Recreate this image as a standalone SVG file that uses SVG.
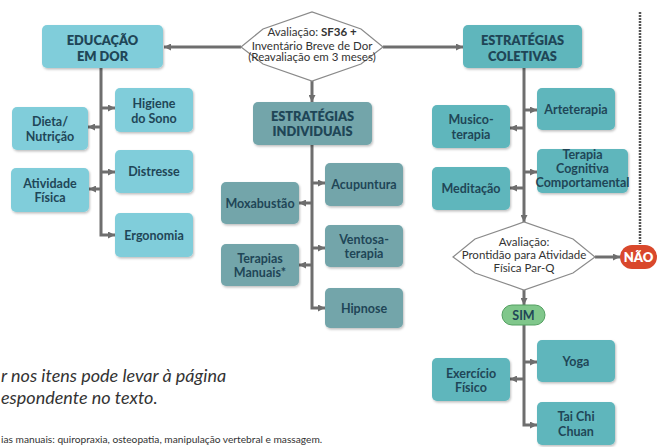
<svg xmlns="http://www.w3.org/2000/svg" width="660" height="447" viewBox="0 0 660 447">
<style>
.edu{fill:#80cdda}
.col{fill:#5fb6bc}
.ind{fill:#73a5aa}
.box{filter:url(#sh)}
.t{font-family:Lato,"Open Sans",sans-serif;font-weight:700;font-size:12.5px;fill:#1f4657;text-anchor:middle}
.h{font-family:Lato,"Open Sans",sans-serif;font-weight:800;font-size:12.8px;fill:#1f4657;text-anchor:middle}
.hx{font-family:Lato,"Open Sans",sans-serif;font-size:11.5px;fill:#333;text-anchor:middle}
.c{fill:none;stroke:#6e6e6e;stroke-width:3}
.a{marker-end:url(#ar)}
.foot{font-family:Lato,"Open Sans",sans-serif;font-style:italic;fill:#333}
</style>
<defs>
<filter id="sh" x="-10%" y="-10%" width="125%" height="130%">
<feDropShadow dx="1" dy="1.5" stdDeviation="1" flood-color="#000" flood-opacity="0.25"/>
</filter>
<marker id="ar" viewBox="0 0 10 10" refX="10" refY="5" markerUnits="userSpaceOnUse" markerWidth="7" markerHeight="7" orient="auto">
<path d="M0,0 L10,5 L0,10 z" fill="#6e6e6e"/>
</marker>
</defs>
<rect width="660" height="447" fill="#fff"/>

<g id="connectors">
<line class="c a" x1="241" y1="47" x2="164" y2="47"/>
<line class="c a" x1="383" y1="47" x2="463" y2="47"/>
<line class="c a" x1="312" y1="81" x2="312" y2="102"/>
<polyline class="c a" points="101,68 101,235 115,235"/>
<line class="c a" x1="101" y1="108" x2="115" y2="108"/>
<line class="c a" x1="101" y1="127" x2="88" y2="127"/>
<line class="c a" x1="101" y1="172" x2="115" y2="172"/>
<line class="c a" x1="101" y1="189" x2="89" y2="189"/>
<polyline class="c a" points="312,145 312,308 325,308"/>
<line class="c a" x1="312" y1="183" x2="325" y2="183"/>
<line class="c a" x1="312" y1="203" x2="299" y2="203"/>
<line class="c a" x1="312" y1="248" x2="325" y2="248"/>
<line class="c a" x1="312" y1="265" x2="299" y2="265"/>
<line class="c a" x1="524" y1="68" x2="524" y2="222"/>
<line class="c a" x1="524" y1="110" x2="537" y2="110"/>
<line class="c a" x1="524" y1="128" x2="510" y2="128"/>
<line class="c a" x1="524" y1="172" x2="537" y2="172"/>
<line class="c a" x1="524" y1="188" x2="510" y2="188"/>
<line class="c a" x1="595" y1="257" x2="620" y2="257"/>
<line class="c a" x1="524" y1="290" x2="524" y2="305"/>
<polyline class="c a" points="524,325 524,425 537,425"/>
<line class="c a" x1="524" y1="362" x2="537" y2="362"/>
<line class="c a" x1="524" y1="379" x2="510" y2="379"/>
<line x1="640" y1="12" x2="640" y2="244" stroke="#555" stroke-width="2.5" stroke-dasharray="2 1"/>
</g>

<g id="aval1">
<polygon points="241,47 263,29 312,12 361,29 383,47 361,64 312,81 263,64" fill="#fff" stroke="#8a8a8a" stroke-width="1.2"/>
<text class="hx" x="312" y="36">Avaliação: <tspan font-weight="700">SF36 +</tspan></text>
<text class="hx" x="312" y="49.5">Inventário Breve de Dor</text>
<text class="hx" x="312" y="61" font-size="9">(Reavaliação em 3 meses)</text>
</g>

<g id="educacao"><rect class="box edu" x="42" y="25" width="121" height="43" rx="5"/>
<text class="h" x="102.5" y="45">EDUCAÇÃO</text><text class="h" x="102.5" y="60.5">EM DOR</text></g>
<g id="higiene"><rect class="box edu" x="115" y="88" width="78" height="44" rx="5"/>
<text class="t" x="154" y="107.5">Higiene</text><text class="t" x="154" y="122.5">do Sono</text></g>
<g id="dieta"><rect class="box edu" x="12" y="107" width="76" height="43" rx="5"/>
<text class="t" x="50" y="125.5">Dieta/</text><text class="t" x="50" y="140.5">Nutrição</text></g>
<g id="distresse"><rect class="box edu" x="115" y="150" width="78" height="43" rx="5"/>
<text class="t" x="154" y="176">Distresse</text></g>
<g id="atividade"><rect class="box edu" x="11" y="168" width="78" height="44" rx="5"/>
<text class="t" x="50" y="187.5">Atividade</text><text class="t" x="50" y="202">Física</text></g>
<g id="ergonomia"><rect class="box edu" x="115" y="213" width="78" height="44" rx="5"/>
<text class="t" x="154" y="239.5">Ergonomia</text></g>

<g id="individuais"><rect class="box ind" x="253" y="102" width="119" height="43" rx="5"/>
<text class="h" x="312.5" y="120.5">ESTRATÉGIAS</text><text class="h" x="312.5" y="136">INDIVIDUAIS</text></g>
<g id="acupuntura"><rect class="box ind" x="325" y="163" width="78" height="43" rx="5"/>
<text class="t" x="364" y="189">Acupuntura</text></g>
<g id="moxabustao"><rect class="box ind" x="221" y="182" width="78" height="42" rx="5"/>
<text class="t" x="260" y="207.5">Moxabustão</text></g>
<g id="ventosa"><rect class="box ind" x="325" y="225" width="78" height="42" rx="5"/>
<text class="t" x="364" y="243.5">Ventosa-</text><text class="t" x="364" y="258">terapia</text></g>
<g id="terapias"><rect class="box ind" x="221" y="244" width="78" height="42" rx="5"/>
<text class="t" x="260" y="262.5">Terapias</text><text class="t" x="260" y="277">Manuais*</text></g>
<g id="hipnose"><rect class="box ind" x="325" y="288" width="78" height="40" rx="5"/>
<text class="t" x="364" y="312.5">Hipnose</text></g>

<g id="coletivas"><rect class="box col" x="463" y="25" width="119" height="43" rx="5"/>
<text class="h" x="522.5" y="45">ESTRATÉGIAS</text><text class="h" x="522.5" y="60.5">COLETIVAS</text></g>
<g id="arteterapia"><rect class="box col" x="537" y="88" width="78" height="42" rx="5"/>
<text class="t" x="576" y="113.5">Arteterapia</text></g>
<g id="musico"><rect class="box col" x="432" y="105" width="78" height="43" rx="5"/>
<text class="t" x="471" y="124">Musico-</text><text class="t" x="471" y="138.5">terapia</text></g>
<g id="tcc"><rect class="box col" x="537" y="149" width="91" height="44" rx="5"/>
<text class="t" x="582.5" y="159" font-size="11">Terapia</text><text class="t" x="582.5" y="172.5" font-size="11">Cognitiva</text><text class="t" x="582.5" y="186.5" font-size="9">Comportamental</text></g>
<g id="meditacao"><rect class="box col" x="432" y="167" width="78" height="43" rx="5"/>
<text class="t" x="471" y="193">Meditação</text></g>

<g id="aval2">
<polygon points="453,257 475,239 524,222 573,239 595,257 573,273 524,290 475,273" fill="#fff" stroke="#8a8a8a" stroke-width="1.2"/>
<text class="hx" x="524" y="246">Avaliação:</text>
<text class="hx" x="524" y="259">Prontidão para Atividade</text>
<text class="hx" x="524" y="272">Física Par-Q</text>
</g>

<g id="nao"><rect x="620" y="245" width="37" height="24" rx="12" fill="#d9482c"/>
<text x="638.5" y="261.5" font-family="Lato,'Open Sans',sans-serif" font-weight="800" font-size="13" fill="#fff" text-anchor="middle">NÃO</text></g>
<g id="sim"><rect x="502" y="305" width="43" height="20" rx="10" fill="#80c78b" stroke="#55a062" stroke-width="1"/>
<text class="t" x="523.5" y="319.5">SIM</text></g>

<g id="yoga"><rect class="box col" x="537" y="340" width="78" height="42" rx="5"/>
<text class="t" x="576" y="365.5">Yoga</text></g>
<g id="exercicio"><rect class="box col" x="432" y="358" width="78" height="43" rx="5"/>
<text class="t" x="471" y="377.5">Exercício</text><text class="t" x="471" y="392">Físico</text></g>
<g id="taichi"><rect class="box col" x="537" y="402" width="78" height="43" rx="5"/>
<text class="t" x="576" y="421">Tai Chi</text><text class="t" x="576" y="435.5">Chuan</text></g>

<g id="footer">
<text class="foot" x="1" y="382" font-size="18">r nos itens pode levar à página</text>
<text class="foot" x="1" y="404" font-size="18">espondente no texto.</text>
<text x="1" y="443" font-family="Lato,'Open Sans',sans-serif" font-size="10.2" fill="#333">ias manuais: quiropraxia, osteopatia, manipulação vertebral e massagem.</text>
</g>
</svg>
